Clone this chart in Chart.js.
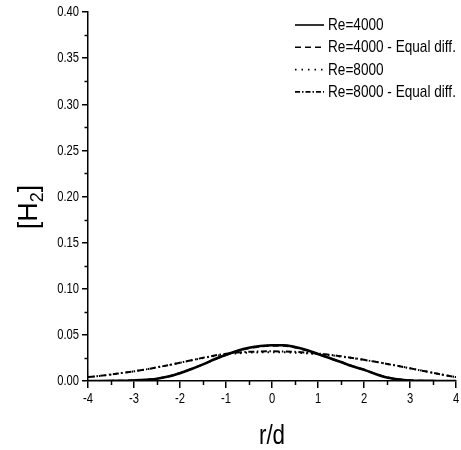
<!DOCTYPE html>
<html>
<head>
<meta charset="utf-8">
<script src="https://cdn.jsdelivr.net/npm/chart.js@4.4.1/dist/chart.umd.min.js"></script>
<style>
  html, body { margin: 0; padding: 0; background: #fff; }
  #wrap { width: 461px; height: 450px; }
</style>
</head>
<body>
<div id="wrap"><canvas id="h2Chart" width="461" height="450"></canvas></div>
<script>
// radial position r/d
const rValues = [-4, -3.75, -3.5, -3.25, -3, -2.75, -2.5, -2.25, -2, -1.75, -1.5, -1.25, -1, -0.75, -0.5, -0.25,
                 0, 0.25, 0.5, 0.75, 1, 1.25, 1.5, 1.75, 2, 2.25, 2.5, 2.75, 3, 3.25, 3.5, 3.75, 4];

const h2Re4000 = [0, 0, 0.0001, 0.0003, 0.0006, 0.0012, 0.0025, 0.0048, 0.0085, 0.0130, 0.0180, 0.0235, 0.0285, 0.0328, 0.0360, 0.0380,
                  0.0388, 0.0388, 0.0368, 0.0335, 0.0292, 0.0250, 0.0205, 0.0160, 0.0122, 0.0075, 0.0037, 0.0016, 0.0006, 0.0002, 0.0001, 0, 0];

const h2Re4000Eq = [0, 0, 0.0001, 0.0003, 0.0007, 0.0013, 0.0027, 0.0050, 0.0088, 0.0132, 0.0180, 0.0233, 0.0282, 0.0324, 0.0355, 0.0374,
                    0.0382, 0.0382, 0.0364, 0.0332, 0.0290, 0.0249, 0.0205, 0.0161, 0.0123, 0.0078, 0.0040, 0.0018, 0.0007, 0.0002, 0.0001, 0, 0];

const h2Re8000 = [0.0043, 0.0055, 0.0070, 0.0088, 0.0105, 0.0125, 0.0148, 0.0172, 0.0198, 0.0224, 0.0249, 0.0271, 0.0288, 0.0300, 0.0307, 0.0311,
                  0.0312, 0.0311, 0.0307, 0.0300, 0.0291, 0.0280, 0.0265, 0.0248, 0.0229, 0.0208, 0.0185, 0.0162, 0.0138, 0.0113, 0.0088, 0.0064, 0.0042];

const h2Re8000Eq = [0.0043, 0.0055, 0.0070, 0.0088, 0.0105, 0.0125, 0.0148, 0.0172, 0.0198, 0.0225, 0.0252, 0.0276, 0.0295, 0.0308, 0.0316, 0.0320,
                    0.0322, 0.0320, 0.0316, 0.0308, 0.0298, 0.0285, 0.0268, 0.0250, 0.0230, 0.0208, 0.0185, 0.0162, 0.0138, 0.0113, 0.0088, 0.0064, 0.0042];

const yTicks = [0, 0.05, 0.10, 0.15, 0.20, 0.25, 0.30, 0.35, 0.40];
const xTicks = [-4, -3, -2, -1, 0, 1, 2, 3, 4];

const FONT = "'Liberation Sans', Arial, sans-serif";
const NARROW = 0.8; // reference uses a narrow face

function toPoints(ys) {
    return rValues.map((r, i) => ({ x: r, y: ys[i] }));
}

function narrowText(ctx, text, x, y, sx) {
    ctx.save();
    ctx.translate(x, y);
    ctx.scale(sx, 1);
    ctx.fillText(text, 0, 0);
    ctx.restore();
}

// tick labels, minor ticks, axis titles and the in-plot legend
const decorPlugin = {
    id: 'decor',
    afterDraw(chart) {
        const ctx = chart.ctx;
        const area = chart.chartArea;
        const xs = chart.scales.x, ys = chart.scales.y;
        ctx.save();
        ctx.strokeStyle = '#000';
        ctx.fillStyle = '#000';
        ctx.lineWidth = 1.5;
        // minor ticks
        for (let v = 0.025; v < 0.4; v += 0.05) {
            const py = Math.round(ys.getPixelForValue(v)) + 0.5;
            ctx.beginPath(); ctx.moveTo(area.left - 3.5, py); ctx.lineTo(area.left, py); ctx.stroke();
        }
        for (let v = -3.5; v < 4; v += 1) {
            const px = Math.round(xs.getPixelForValue(v)) + 0.5;
            ctx.beginPath(); ctx.moveTo(px, area.bottom); ctx.lineTo(px, area.bottom + 4); ctx.stroke();
        }
        // tick labels
        ctx.font = '14px ' + FONT;
        ctx.textAlign = 'right';
        ctx.textBaseline = 'middle';
        yTicks.forEach(v => narrowText(ctx, v.toFixed(2), 79, ys.getPixelForValue(v) + 0.5, NARROW));
        ctx.font = '14px ' + FONT;
        ctx.textAlign = 'center';
        ctx.textBaseline = 'middle';
        xTicks.forEach(v => narrowText(ctx, String(v), xs.getPixelForValue(v), 399, 0.8));
        // x title
        ctx.font = '28px ' + FONT;
        narrowText(ctx, 'r/d', 272, 436, NARROW);
        // y title [H2]
        ctx.save();
        ctx.translate(28, 207);
        ctx.rotate(-Math.PI / 2);
        ctx.textAlign = 'left';
        ctx.textBaseline = 'alphabetic';
        const big = '27px ' + FONT, small = '18px ' + FONT;
        ctx.font = big;
        const w1 = ctx.measureText('[H').width;
        ctx.font = small;
        const w2 = ctx.measureText('2').width;
        ctx.font = big;
        const w3 = ctx.measureText(']').width;
        const x0 = -(w1 + w2 + w3) / 2;
        const base = 9;
        ctx.fillText('[H', x0, base);
        ctx.font = small;
        ctx.fillText('2', x0 + w1, base + 6);
        ctx.font = big;
        ctx.fillText(']', x0 + w1 + w2, base);
        ctx.restore();
        // legend
        ctx.font = '17px ' + FONT;
        ctx.textAlign = 'left';
        ctx.textBaseline = 'middle';
        chart.data.datasets.forEach((ds, i) => {
            const y = 25 + i * 22.3;
            ctx.save();
            ctx.lineWidth = 1.6;
            ctx.setLineDash(ds.legendDash);
            ctx.beginPath(); ctx.moveTo(295, y); ctx.lineTo(324, y); ctx.stroke();
            ctx.restore();
            narrowText(ctx, ds.label, 328, y + 0.5, NARROW);
        });
        ctx.restore();
    }
};

const ctx = document.getElementById('h2Chart').getContext('2d');
const h2Chart = new Chart(ctx, {
    type: 'line',
    data: {
        datasets: [
            { label: 'Re=4000', data: toPoints(h2Re4000), borderColor: '#000', borderWidth: 2.6, borderDash: [], legendDash: [] },
            { label: 'Re=4000 - Equal diff.', data: toPoints(h2Re4000Eq), borderColor: '#000', borderWidth: 2, borderDash: [6, 4], legendDash: [6, 4] },
            { label: 'Re=8000', data: toPoints(h2Re8000), borderColor: '#000', borderWidth: 2, borderDash: [1.5, 4], legendDash: [1.5, 5] },
            { label: 'Re=8000 - Equal diff.', data: toPoints(h2Re8000Eq), borderColor: '#000', borderWidth: 2, borderDash: [6, 2.5, 1.5, 2.5], legendDash: [5, 2, 1.5, 2] }
        ]
    },
    options: {
        responsive: false,
        animation: false,
        layout: { padding: { left: 0, right: 5, top: 12, bottom: 0 } },
        elements: {
            point: { radius: 0 },
            line: { tension: 0.4, cubicInterpolationMode: 'monotone', fill: false }
        },
        scales: {
            x: {
                type: 'linear',
                min: -4,
                max: 4,
                afterBuildTicks: (scale) => { scale.ticks = xTicks.map(v => ({ value: v })); },
                afterFit: (scale) => { scale.height = 69; },
                border: { display: true, color: '#000', width: 1.5 },
                grid: { drawOnChartArea: false, drawTicks: true, tickLength: 7, tickColor: '#000', lineWidth: 1.5 },
                ticks: { display: false }
            },
            y: {
                min: 0,
                max: 0.4,
                afterBuildTicks: (scale) => { scale.ticks = yTicks.map(v => ({ value: v })); },
                afterFit: (scale) => { scale.width = 88; },
                border: { display: true, color: '#000', width: 1.5 },
                grid: { drawOnChartArea: false, drawTicks: true, tickLength: 6, tickColor: '#000', lineWidth: 1.5 },
                ticks: { display: false }
            }
        },
        plugins: {
            legend: { display: false },
            tooltip: { enabled: false }
        }
    },
    plugins: [decorPlugin]
});
</script>
</body>
</html>
